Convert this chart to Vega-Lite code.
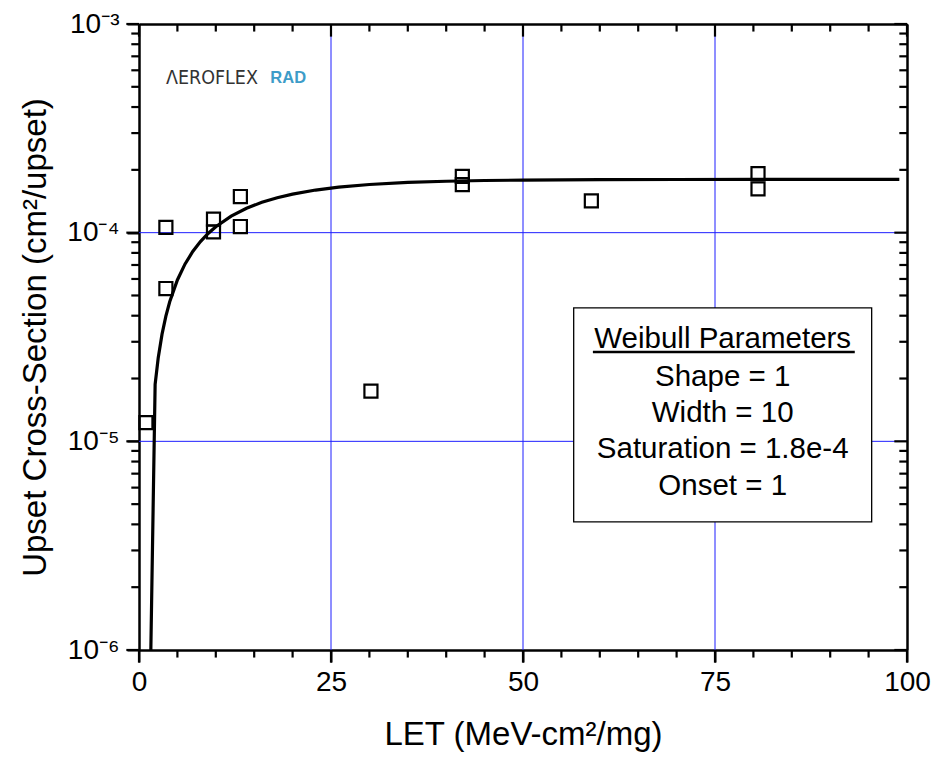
{
  "$schema": "https://vega.github.io/schema/vega-lite/v6.json",
  "width": 768,
  "height": 626,
  "autosize": {"type": "none"},
  "padding": {"left": 139, "top": 24, "right": 30, "bottom": 108},
  "background": "white",
  "config": {
    "view": {"stroke": null},
    "font": "Liberation Sans",
    "axis": {"labelFont": "Liberation Sans", "titleFont": "Liberation Sans", "grid": false, "tickColor": "black", "tickOpacity": 1, "domainColor": "black", "labelColor": "black", "titleColor": "black", "tickWidth": 2, "domainWidth": 2.5}
  },
  "datasets": {
    "points": [
      {"x": 0.9, "y": 1.23e-5},
      {"x": 3.5, "y": 1.06e-4},
      {"x": 3.5, "y": 5.4e-5},
      {"x": 9.7, "y": 1.16e-4},
      {"x": 9.7, "y": 1.01e-4},
      {"x": 13.2, "y": 1.49e-4},
      {"x": 13.2, "y": 1.07e-4},
      {"x": 30.2, "y": 1.74e-5},
      {"x": 42.1, "y": 1.86e-4},
      {"x": 42.1, "y": 1.70e-4},
      {"x": 58.9, "y": 1.42e-4},
      {"x": 80.6, "y": 1.92e-4},
      {"x": 80.6, "y": 1.62e-4}
    ],
    "curve": [
      {"x": 1.1, "y": 1e-7},
      {"x": 2.1, "y": 1.875e-5},
      {"x": 2.5, "y": 2.507e-5},
      {"x": 3, "y": 3.263e-5},
      {"x": 3.5, "y": 3.982e-5},
      {"x": 4, "y": 4.665e-5},
      {"x": 5, "y": 5.934e-5},
      {"x": 6, "y": 7.083e-5},
      {"x": 7, "y": 8.121e-5},
      {"x": 8, "y": 9.061e-5},
      {"x": 9, "y": 9.912e-5},
      {"x": 10, "y": 1.068e-4},
      {"x": 12, "y": 1.201e-4},
      {"x": 14, "y": 1.3095e-4},
      {"x": 16, "y": 1.398e-4},
      {"x": 18, "y": 1.471e-4},
      {"x": 20, "y": 1.531e-4},
      {"x": 23, "y": 1.6005e-4},
      {"x": 26, "y": 1.652e-4},
      {"x": 30, "y": 1.701e-4},
      {"x": 35, "y": 1.740e-4},
      {"x": 40, "y": 1.7636e-4},
      {"x": 45, "y": 1.7779e-4},
      {"x": 50, "y": 1.7866e-4},
      {"x": 60, "y": 1.7951e-4},
      {"x": 70, "y": 1.7982e-4},
      {"x": 80, "y": 1.7993e-4},
      {"x": 90, "y": 1.7998e-4},
      {"x": 99, "y": 1.7999e-4}
    ],
    "gridX": [{"v": 25}, {"v": 50}, {"v": 75}],
    "gridY": [{"v": 1e-5}, {"v": 1e-4}],
    "ticksBottom": [
      {"v": 0, "a": 1e-6, "b": 8.7e-7}, {"v": 25, "a": 1e-6, "b": 8.7e-7}, {"v": 50, "a": 1e-6, "b": 8.7e-7}, {"v": 75, "a": 1e-6, "b": 8.7e-7}, {"v": 100, "a": 1e-6, "b": 8.7e-7},
      {"v": 5, "a": 1e-6, "b": 9.2e-7}, {"v": 10, "a": 1e-6, "b": 9.2e-7}, {"v": 15, "a": 1e-6, "b": 9.2e-7}, {"v": 20, "a": 1e-6, "b": 9.2e-7},
      {"v": 30, "a": 1e-6, "b": 9.2e-7}, {"v": 35, "a": 1e-6, "b": 9.2e-7}, {"v": 40, "a": 1e-6, "b": 9.2e-7}, {"v": 45, "a": 1e-6, "b": 9.2e-7},
      {"v": 55, "a": 1e-6, "b": 9.2e-7}, {"v": 60, "a": 1e-6, "b": 9.2e-7}, {"v": 65, "a": 1e-6, "b": 9.2e-7}, {"v": 70, "a": 1e-6, "b": 9.2e-7},
      {"v": 80, "a": 1e-6, "b": 9.2e-7}, {"v": 85, "a": 1e-6, "b": 9.2e-7}, {"v": 90, "a": 1e-6, "b": 9.2e-7}, {"v": 95, "a": 1e-6, "b": 9.2e-7}
    ],
    "ticksTop": [
      {"v": 0, "a": 1e-3, "b": 8.7e-4}, {"v": 25, "a": 1e-3, "b": 8.7e-4}, {"v": 50, "a": 1e-3, "b": 8.7e-4}, {"v": 75, "a": 1e-3, "b": 8.7e-4}, {"v": 100, "a": 1e-3, "b": 8.7e-4},
      {"v": 5, "a": 1e-3, "b": 9.2e-4}, {"v": 10, "a": 1e-3, "b": 9.2e-4}, {"v": 15, "a": 1e-3, "b": 9.2e-4}, {"v": 20, "a": 1e-3, "b": 9.2e-4},
      {"v": 30, "a": 1e-3, "b": 9.2e-4}, {"v": 35, "a": 1e-3, "b": 9.2e-4}, {"v": 40, "a": 1e-3, "b": 9.2e-4}, {"v": 45, "a": 1e-3, "b": 9.2e-4},
      {"v": 55, "a": 1e-3, "b": 9.2e-4}, {"v": 60, "a": 1e-3, "b": 9.2e-4}, {"v": 65, "a": 1e-3, "b": 9.2e-4}, {"v": 70, "a": 1e-3, "b": 9.2e-4},
      {"v": 80, "a": 1e-3, "b": 9.2e-4}, {"v": 85, "a": 1e-3, "b": 9.2e-4}, {"v": 90, "a": 1e-3, "b": 9.2e-4}, {"v": 95, "a": 1e-3, "b": 9.2e-4}
    ],
    "ticksLeft": [
      {"v": 1e-6, "a": 0, "b": -1.65}, {"v": 1e-5, "a": 0, "b": -1.65}, {"v": 1e-4, "a": 0, "b": -1.65}, {"v": 1e-3, "a": 0, "b": -1.65},
      {"v": 2e-6, "a": 0, "b": -1.0}, {"v": 3e-6, "a": 0, "b": -1.0}, {"v": 4e-6, "a": 0, "b": -1.0}, {"v": 5e-6, "a": 0, "b": -1.0}, {"v": 6e-6, "a": 0, "b": -1.0}, {"v": 7e-6, "a": 0, "b": -1.0}, {"v": 8e-6, "a": 0, "b": -1.0}, {"v": 9e-6, "a": 0, "b": -1.0},
      {"v": 2e-5, "a": 0, "b": -1.0}, {"v": 3e-5, "a": 0, "b": -1.0}, {"v": 4e-5, "a": 0, "b": -1.0}, {"v": 5e-5, "a": 0, "b": -1.0}, {"v": 6e-5, "a": 0, "b": -1.0}, {"v": 7e-5, "a": 0, "b": -1.0}, {"v": 8e-5, "a": 0, "b": -1.0}, {"v": 9e-5, "a": 0, "b": -1.0},
      {"v": 2e-4, "a": 0, "b": -1.0}, {"v": 3e-4, "a": 0, "b": -1.0}, {"v": 4e-4, "a": 0, "b": -1.0}, {"v": 5e-4, "a": 0, "b": -1.0}, {"v": 6e-4, "a": 0, "b": -1.0}, {"v": 7e-4, "a": 0, "b": -1.0}, {"v": 8e-4, "a": 0, "b": -1.0}, {"v": 9e-4, "a": 0, "b": -1.0}
    ],
    "ticksRight": [
      {"v": 1e-6, "a": 100, "b": 98.35}, {"v": 1e-5, "a": 100, "b": 98.35}, {"v": 1e-4, "a": 100, "b": 98.35}, {"v": 1e-3, "a": 100, "b": 98.35},
      {"v": 2e-6, "a": 100, "b": 99.0}, {"v": 3e-6, "a": 100, "b": 99.0}, {"v": 4e-6, "a": 100, "b": 99.0}, {"v": 5e-6, "a": 100, "b": 99.0}, {"v": 6e-6, "a": 100, "b": 99.0}, {"v": 7e-6, "a": 100, "b": 99.0}, {"v": 8e-6, "a": 100, "b": 99.0}, {"v": 9e-6, "a": 100, "b": 99.0},
      {"v": 2e-5, "a": 100, "b": 99.0}, {"v": 3e-5, "a": 100, "b": 99.0}, {"v": 4e-5, "a": 100, "b": 99.0}, {"v": 5e-5, "a": 100, "b": 99.0}, {"v": 6e-5, "a": 100, "b": 99.0}, {"v": 7e-5, "a": 100, "b": 99.0}, {"v": 8e-5, "a": 100, "b": 99.0}, {"v": 9e-5, "a": 100, "b": 99.0},
      {"v": 2e-4, "a": 100, "b": 99.0}, {"v": 3e-4, "a": 100, "b": 99.0}, {"v": 4e-4, "a": 100, "b": 99.0}, {"v": 5e-4, "a": 100, "b": 99.0}, {"v": 6e-4, "a": 100, "b": 99.0}, {"v": 7e-4, "a": 100, "b": 99.0}, {"v": 8e-4, "a": 100, "b": 99.0}, {"v": 9e-4, "a": 100, "b": 99.0}
    ],
    "box": [{"x1": 56.6, "x2": 95.4, "y1": 4.36e-5, "y2": 4.11e-6}],
    "underline": [{"x1": 59.1, "x2": 93.2, "y": 2.68e-5}],
    "legendText": [
      {"label": "Weibull Parameters", "x": 76, "y": 3.095e-5},
      {"label": "Shape = 1", "x": 76, "y": 2.035e-5},
      {"label": "Width = 10", "x": 76, "y": 1.368e-5},
      {"label": "Saturation = 1.8e-4", "x": 76, "y": 9.2e-6},
      {"label": "Onset = 1", "x": 76, "y": 6.11e-6}
    ],
    "logoA": [{"label": "ΛEROFLEX", "x": 3.5, "y": 5.51e-4}],
    "logoR": [{"label": "RAD", "x": 17.1, "y": 5.51e-4}]
  },
  "resolve": {"axis": {"x": "independent", "y": "independent"}},
  "layer": [
    {
      "data": {"name": "gridX"},
      "mark": {"type": "rule", "color": "#1f1fff", "strokeWidth": 1},
      "encoding": {
        "x": {"field": "v", "type": "quantitative", "scale": {"domain": [0, 100], "nice": false, "zero": false}, "axis": null}
      }
    },
    {
      "data": {"name": "gridY"},
      "mark": {"type": "rule", "color": "#1f1fff", "strokeWidth": 1},
      "encoding": {
        "y": {"field": "v", "type": "quantitative", "scale": {"type": "log", "domain": [1e-6, 1e-3], "nice": false}, "axis": null}
      }
    },
    {
      "data": {"name": "box"},
      "mark": {"type": "rect", "fill": "white", "stroke": "black", "strokeWidth": 1.3},
      "encoding": {
        "x": {"field": "x1", "type": "quantitative", "axis": null},
        "x2": {"field": "x2"},
        "y": {"field": "y1", "type": "quantitative", "axis": null},
        "y2": {"field": "y2"}
      }
    },
    {
      "data": {"name": "underline"},
      "mark": {"type": "rule", "color": "black", "strokeWidth": 2.4},
      "encoding": {
        "x": {"field": "x1", "type": "quantitative",
          "axis": {"orient": "top", "ticks": false, "labels": false, "domain": true, "title": null}},
        "x2": {"field": "x2"},
        "y": {"field": "y", "type": "quantitative",
          "axis": {"orient": "right", "ticks": false, "labels": false, "domain": true, "title": null}}
      }
    },
    {
      "data": {"name": "legendText"},
      "mark": {"type": "text", "fontSize": 29.5, "align": "center", "baseline": "middle", "color": "black", "font": "Liberation Sans"},
      "encoding": {
        "text": {"field": "label"},
        "x": {"field": "x", "type": "quantitative", "axis": null},
        "y": {"field": "y", "type": "quantitative", "axis": null}
      }
    },
    {
      "data": {"name": "logoA"},
      "mark": {"type": "text", "fontSize": 19.5, "align": "left", "baseline": "middle", "color": "#333333", "font": "DejaVu Sans Condensed, Liberation Sans"},
      "encoding": {
        "text": {"field": "label"},
        "x": {"field": "x", "type": "quantitative", "axis": null},
        "y": {"field": "y", "type": "quantitative", "axis": null}
      }
    },
    {
      "data": {"name": "logoR"},
      "mark": {"type": "text", "fontSize": 16.5, "fontWeight": "bold", "align": "left", "baseline": "middle", "color": "#3d9cc8", "font": "Liberation Sans"},
      "encoding": {
        "text": {"field": "label"},
        "x": {"field": "x", "type": "quantitative", "axis": null},
        "y": {"field": "y", "type": "quantitative", "axis": null}
      }
    },
    {
      "data": {"name": "curve"},
      "mark": {"type": "line", "color": "black", "strokeWidth": 3.2, "clip": true, "interpolate": "linear"},
      "encoding": {
        "x": {"field": "x", "type": "quantitative",
          "axis": {"orient": "bottom", "values": [0, 25, 50, 75, 100], "format": "d", "ticks": true, "tickSize": 12, "labelFontSize": 28, "labelPadding": 6, "labelFlush": false, "labelOverlap": false, "domain": true, "title": "LET (MeV-cm²/mg)", "titleFontSize": 33, "titleFontWeight": "normal", "titlePadding": 22}},
        "y": {"field": "y", "type": "quantitative",
          "axis": {"orient": "left", "values": [1e-6, 1e-5, 1e-4, 1e-3], "ticks": true, "tickSize": 12, "labelFontSize": 28, "labelPadding": 8, "labelFlush": false, "labelOverlap": false, "domain": true,
            "labelExpr": "datum.value >= 0.00099 ? '10⁻³' : datum.value >= 0.000099 ? '10⁻⁴' : datum.value >= 0.0000099 ? '10⁻⁵' : '10⁻⁶'",
            "title": "Upset Cross-Section (cm²/upset)", "titleFontSize": 33, "titleFontWeight": "normal", "titlePadding": 14}}
      }
    },
    {
      "data": {"name": "points"},
      "mark": {"type": "point", "shape": "square", "filled": false, "size": 170, "stroke": "black", "strokeWidth": 2.2, "opacity": 1},
      "encoding": {
        "x": {"field": "x", "type": "quantitative", "axis": null},
        "y": {"field": "y", "type": "quantitative", "axis": null}
      }
    },
    {
      "data": {"name": "ticksBottom"},
      "mark": {"type": "rule", "color": "black", "strokeWidth": 2.2},
      "encoding": {
        "x": {"field": "v", "type": "quantitative", "axis": null},
        "y": {"field": "a", "type": "quantitative", "axis": null},
        "y2": {"field": "b"}
      }
    },
    {
      "data": {"name": "ticksTop"},
      "mark": {"type": "rule", "color": "black", "strokeWidth": 2.2},
      "encoding": {
        "x": {"field": "v", "type": "quantitative", "axis": null},
        "y": {"field": "a", "type": "quantitative", "axis": null},
        "y2": {"field": "b"}
      }
    },
    {
      "data": {"name": "ticksLeft"},
      "mark": {"type": "rule", "color": "black", "strokeWidth": 2.2},
      "encoding": {
        "y": {"field": "v", "type": "quantitative", "axis": null},
        "x": {"field": "a", "type": "quantitative", "axis": null},
        "x2": {"field": "b"}
      }
    },
    {
      "data": {"name": "ticksRight"},
      "mark": {"type": "rule", "color": "black", "strokeWidth": 2.2},
      "encoding": {
        "y": {"field": "v", "type": "quantitative", "axis": null},
        "x": {"field": "a", "type": "quantitative", "axis": null},
        "x2": {"field": "b"}
      }
    }
  ]
}
